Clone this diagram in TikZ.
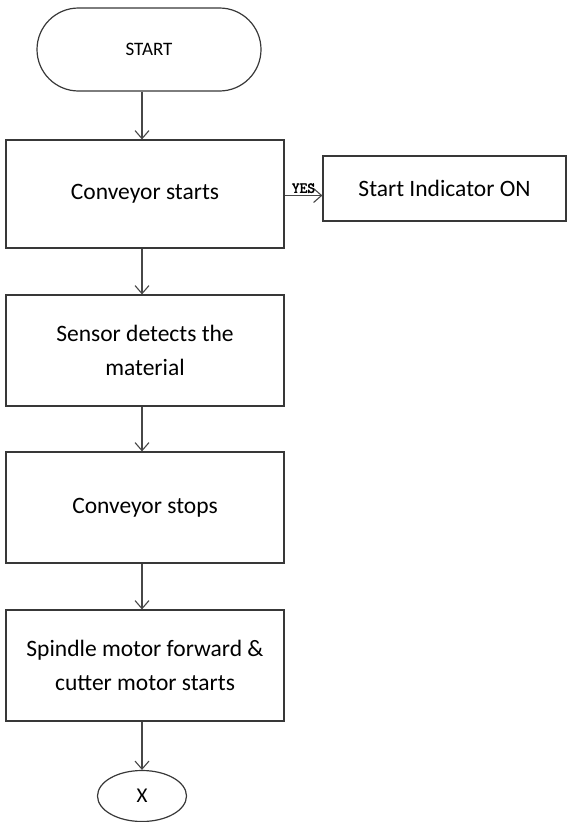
\documentclass[tikz,border=0pt]{standalone}
\usepackage{fontspec}
\setmainfont{Carlito}
\newfontfamily\yesfont[AutoFakeBold=2.5]{Latin Modern Mono}
\usetikzlibrary{arrows.meta,shapes.misc,shapes.geometric}

\tikzset{
  procbox/.style={draw=black!78, line width=1.2pt, rectangle,
    minimum width=278pt, minimum height=111pt, align=center,
    font=\fontsize{23.5}{34}\selectfont, inner sep=0pt},
  termbox/.style={draw=black!78, line width=1.2pt, rounded rectangle,
    minimum width=224pt, minimum height=83pt,
    font=\fontsize{19}{22}\selectfont, inner sep=0pt},
  connbox/.style={draw=black!78, line width=1.2pt, ellipse,
    minimum width=89pt, minimum height=51pt,
    font=\fontsize{21}{24}\selectfont, inner sep=0pt},
  flow/.style={draw=black!72, line width=1.1pt,
    -{Straight Barb[length=8pt,width=14pt,line width=1.1pt]}},
  flowlabel/.style={font=\yesfont\bfseries\fontsize{15}{17}\selectfont,
    inner sep=2pt}
}

\begin{document}
\begin{tikzpicture}[x=1pt,y=-1pt]
  \useasboundingbox (0,0) rectangle (568,822);

  % process steps
  \node[termbox] (start) at (149,49.5) {START};
  \node[procbox, minimum height=108pt] (conv) at (145,194) {Conveyor starts};
  \node[procbox, minimum width=243pt, minimum height=65pt] (ind) at (444.5,188.5) {Start Indicator ON};
  \node[procbox] (sensor) at (145,350.5) {Sensor detects the\\material};
  \node[procbox] (stop) at (145,507.5) {Conveyor stops};
  \node[procbox] (spindle) at (145,665.5) {Spindle motor forward \&\\cutter motor starts};
  \node[connbox] (xconn) at (142,796) {X};

  % connectors
  \draw[flow] (start.south -| xconn.center) -- (conv.north -| xconn.center);
  \draw[flow] ([yshift=-1.5pt]conv.east) -- ([yshift=-1.5pt]conv.east -| ind.west)
    node[midway, above, flowlabel] (yes) {YES};
  \draw[flow] (conv.south -| xconn.center) -- (sensor.north -| xconn.center);
  \draw[flow] (sensor.south -| xconn.center) -- (stop.north -| xconn.center);
  \draw[flow] (stop.south -| xconn.center) -- (spindle.north -| xconn.center);
  \draw[flow] (spindle.south -| xconn.center) -- (xconn.north);
\end{tikzpicture}
\end{document}
